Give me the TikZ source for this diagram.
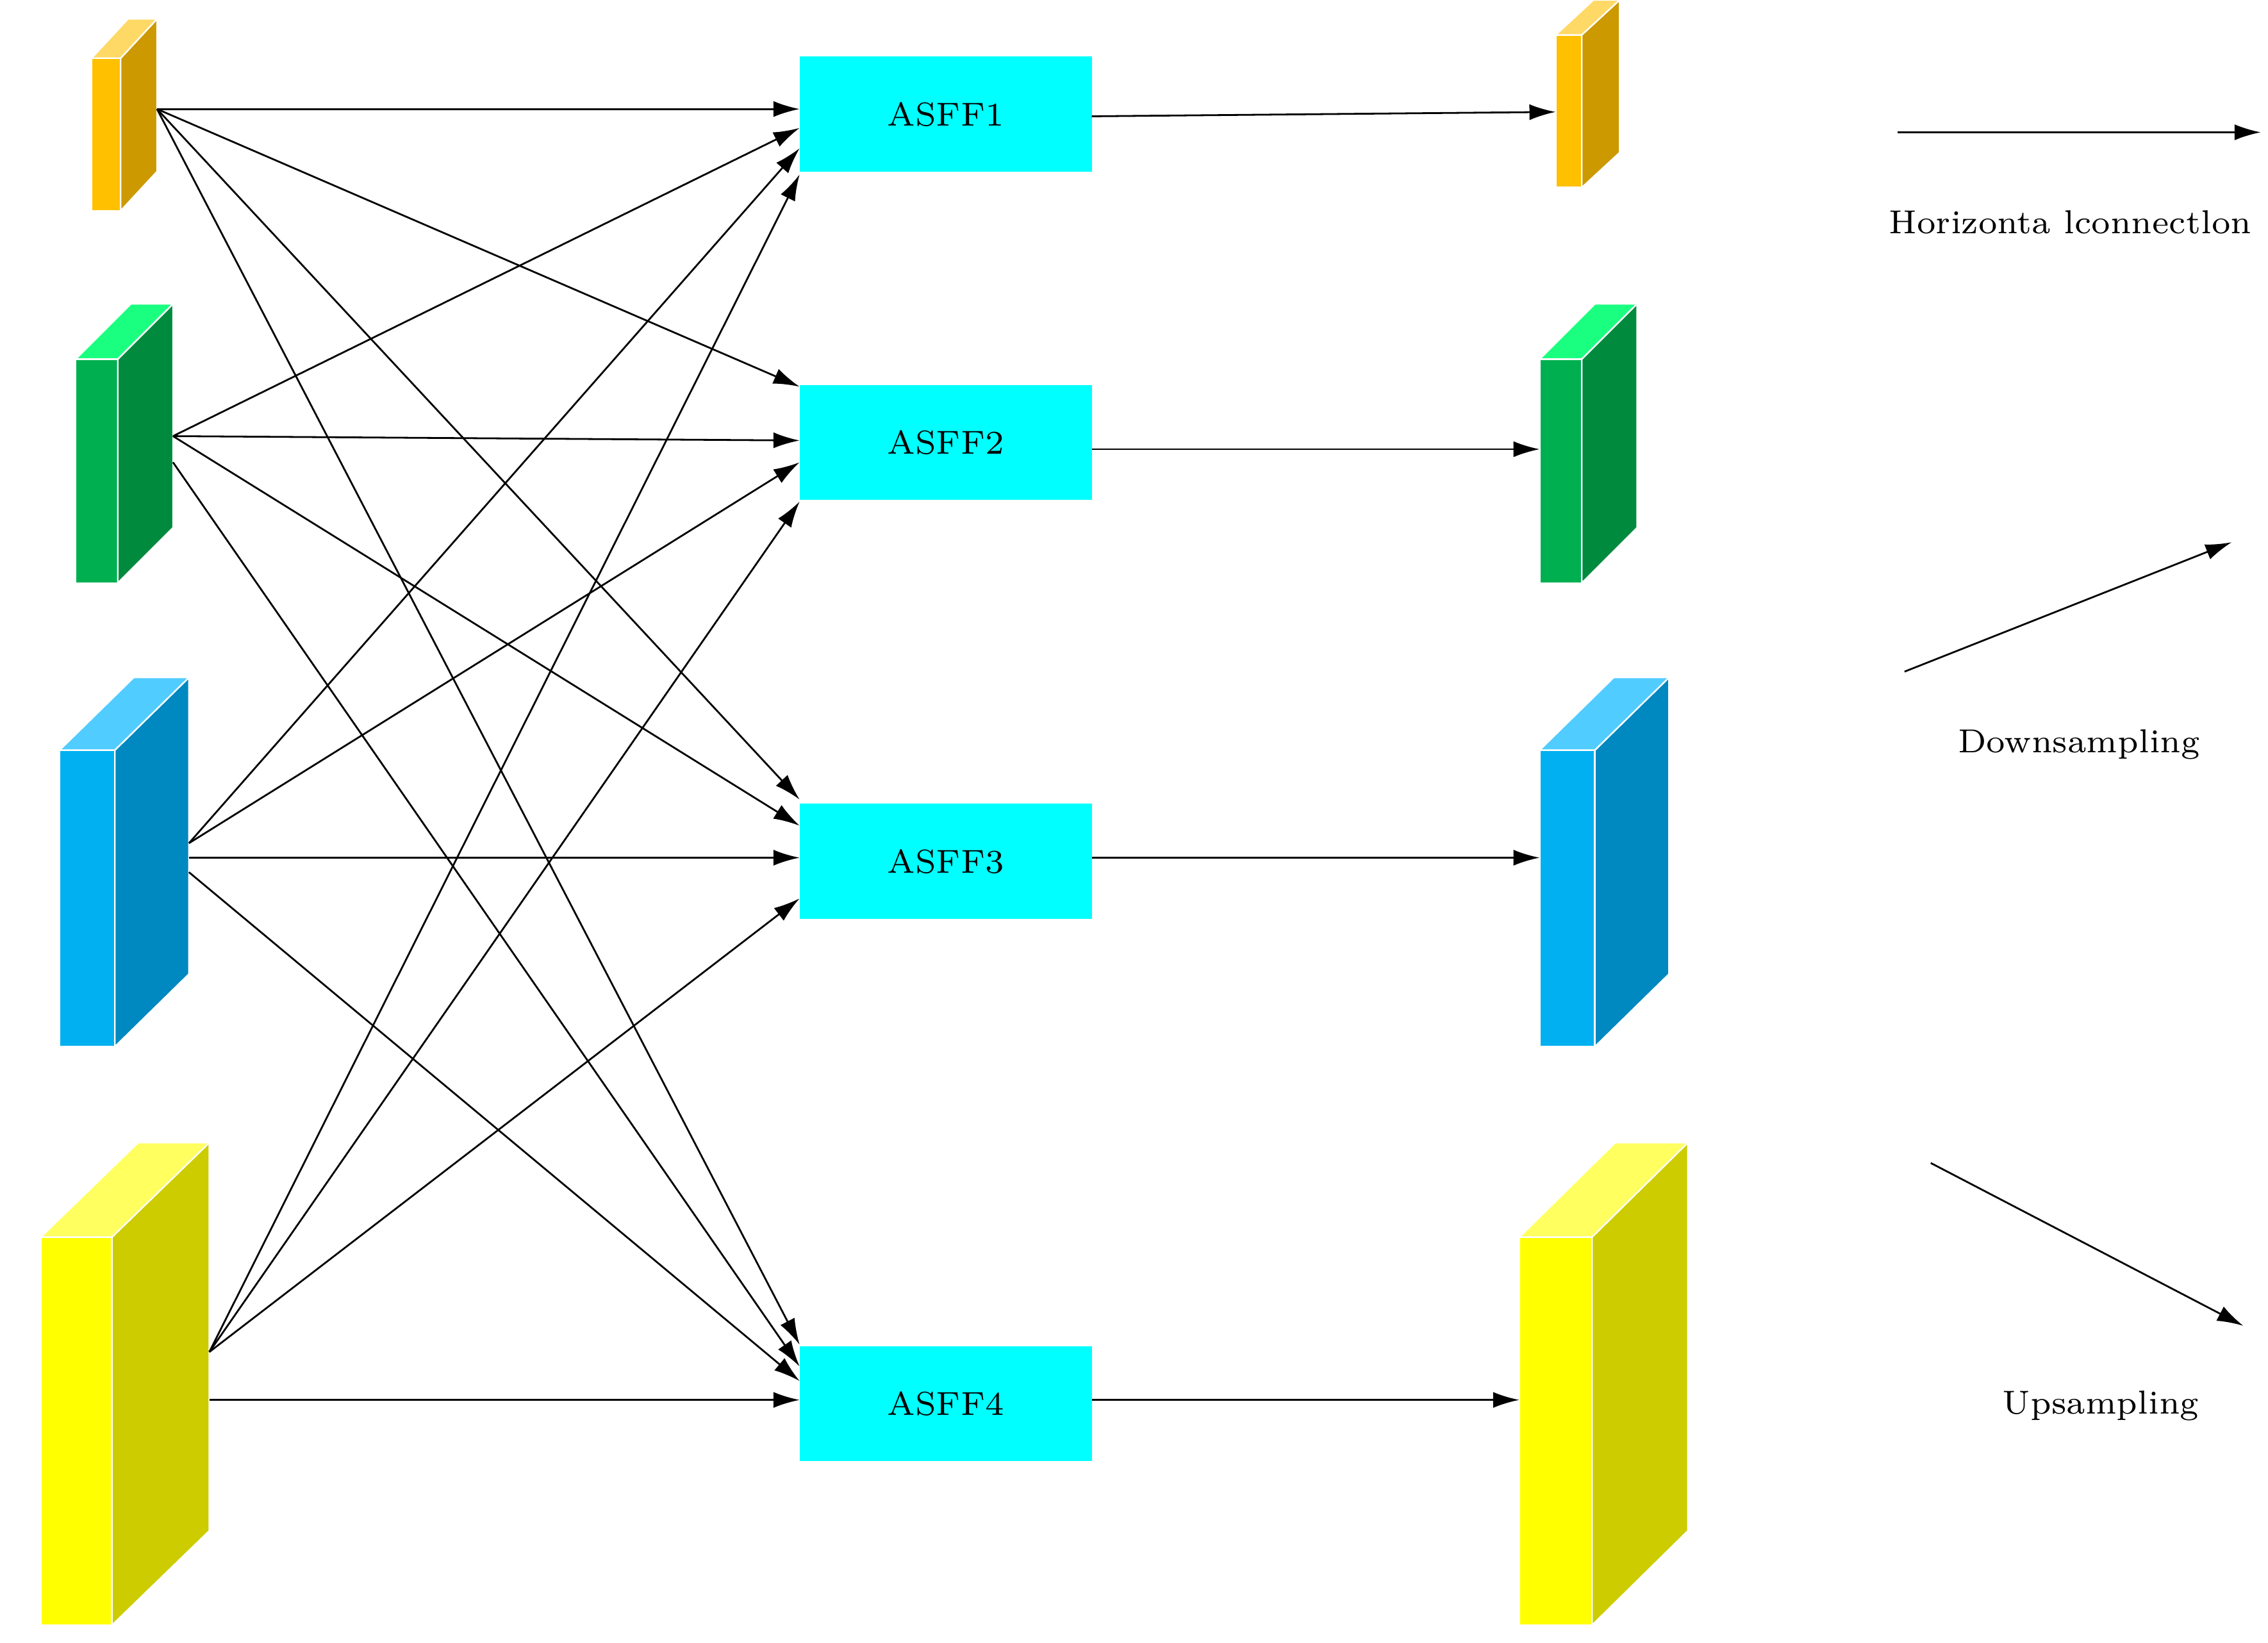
\documentclass[tikz,border=0pt]{standalone}
\usetikzlibrary{arrows.meta}
\definecolor{oF}{HTML}{FFC000}\definecolor{oS}{HTML}{CC9900}\definecolor{oT}{HTML}{FFD966}
\definecolor{gF}{HTML}{00B050}\definecolor{gS}{HTML}{008A3E}\definecolor{gT}{HTML}{1AFF80}
\definecolor{bF}{HTML}{00B0F0}\definecolor{bS}{HTML}{0088C0}\definecolor{bT}{HTML}{50CCFF}
\definecolor{yF}{HTML}{FFFF00}\definecolor{yS}{HTML}{CCCC00}\definecolor{yT}{HTML}{FFFF60}
\definecolor{asff}{HTML}{00FFFF}
% #1 x left, #2 y top, #3 width, #4 height, #5 dx, #6 dy(up), #7 colour prefix
\newcommand\myblock[7]{%
  \fill[#7F,draw=white,line width=0.3pt] (#1,#2) rectangle ++(#3,#4);
  \fill[#7S,draw=white,line width=0.3pt] (#1+#3,#2) -- ++(#5,-#6) -- ++(0,#4) -- ++(-#5,#6) -- cycle;
  \fill[#7T,draw=white,line width=0.3pt] (#1,#2) -- ++(#5,-#6) -- ++(#3,0) -- ++(-#5,#6) -- cycle;}
\begin{document}
\begin{tikzpicture}[x=0.01cm,y=-0.01cm,
  box/.style={fill=asff,minimum width=2.01cm,minimum height=0.79cm,inner sep=0pt,font=\fontsize{6.5}{8}\selectfont},
  lab/.style={font=\fontsize{6.5}{8}\selectfont},
  arr/.style={-{Latex[length=1.8mm,width=1.1mm]},line width=0.35pt}]
\useasboundingbox (0,0) rectangle (1560,1130);
\myblock{63}{40}{20}{105}{25}{27}{o}
\myblock{52}{247}{29}{154}{38}{38}{g}
\myblock{41}{516}{38}{204}{51}{50}{b}
\myblock{28}{851}{49}{267}{67}{65}{y}
\myblock{1070}{24}{18}{105}{26}{24}{o}
\myblock{1059}{247}{29}{154}{38}{38}{g}
\myblock{1059}{516}{38}{204}{51}{50}{b}
\myblock{1045}{851}{50}{267}{66}{65}{y}
\node[box] (A1) at (650.5,78.5) {ASFF1};
\node[box] (A2) at (650.5,304.5) {ASFF2};
\node[box] (A3) at (650.5,592.5) {ASFF3};
\node[box] (A4) at (650.5,965.5) {ASFF4};
\coordinate (o) at (108,75);
\coordinate (g) at (119,300);
\coordinate (b) at (130,580);
\coordinate (y) at (144,930);
\coordinate (oR) at (1070,77);
\coordinate (gR) at (1059,309);
\coordinate (bR) at (1059,590);
\coordinate (yR) at (1045,963);
% left to ASFF
\draw[arr] (o) -- (550,75);
\draw[arr] (o) -- (550,266);
\draw[arr] (o) -- (550,550);
\draw[arr] (o) -- (550,925);
\draw[arr] (g) -- (550,88);
\draw[arr] (g) -- (550,303);
\draw[arr] (g) -- (550,568);
\draw[arr] (119,318) -- (550,940);
\draw[arr] (b) -- (550,102);
\draw[arr] (b) -- (550,318);
\draw[arr] (130,590) -- (550,590);
\draw[arr] (130,600) -- (550,950);
\draw[arr] (y) -- (550,120);
\draw[arr] (y) -- (550,345);
\draw[arr] (y) -- (550,618);
\draw[arr] (144,963) -- (550,963);
% outputs
\draw[arr] (751,80) -- (oR);
\draw[arr] (751,309) -- (gR);
\draw[arr] (751,590) -- (bR);
\draw[arr] (751,963) -- (yR);
% legend
\coordinate (l1a) at (1305,91); \coordinate (l1b) at (1555,91);
\coordinate (l2a) at (1310,462); \coordinate (l2b) at (1535,373);
\coordinate (l3a) at (1328,800); \coordinate (l3b) at (1543,912);
\draw[arr] (l1a) -- (l1b);
\draw[arr] (l2a) -- (l2b);
\draw[arr] (l3a) -- (l3b);
\node[lab] (t1) at (1424,153) {Horizonta lconnectlon};
\node[lab] (t2) at (1430,512) {Downsampling};
\node[lab] (t3) at (1445,967) {Upsampling};
\end{tikzpicture}
\end{document}
